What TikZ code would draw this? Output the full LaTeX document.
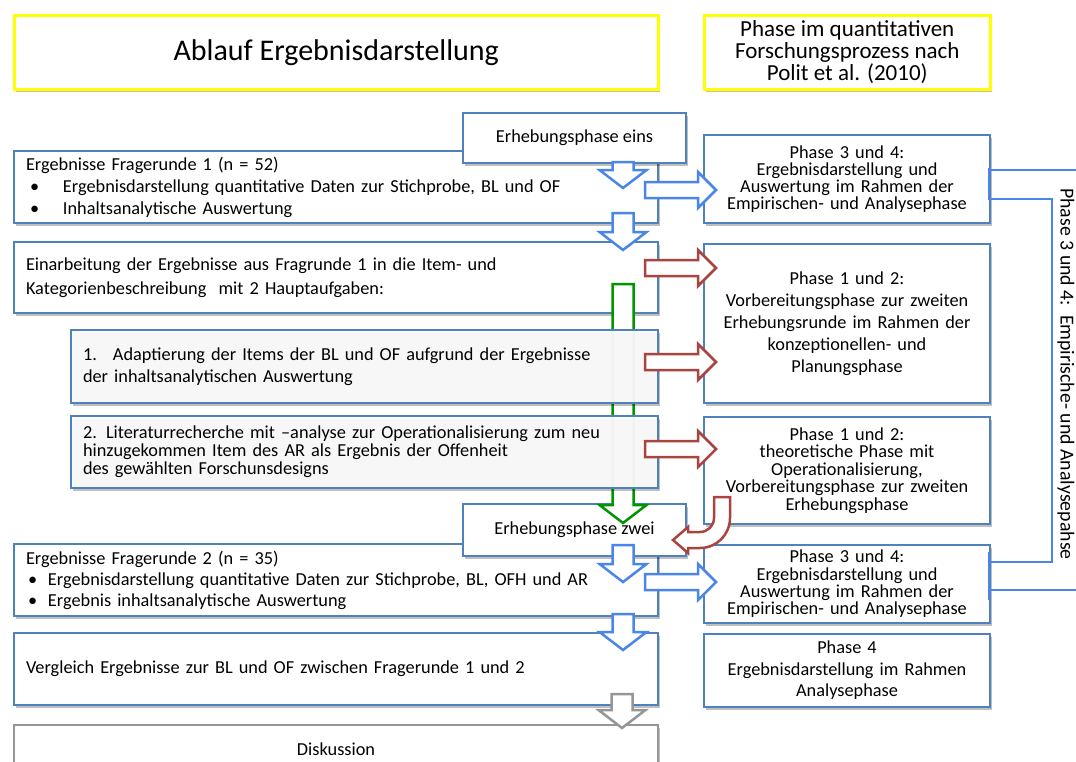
\documentclass[tikz,border=0pt]{standalone}
\usepackage{fontspec}
\setmainfont{Carlito}
\usetikzlibrary{shadows}

\definecolor{boxblue}{RGB}{79,129,189}
\definecolor{arrblue}{RGB}{74,134,232}
\definecolor{arrgreen}{RGB}{0,150,0}
\definecolor{arrred}{RGB}{169,68,62}
\definecolor{arrgray}{RGB}{150,150,150}
\definecolor{panelgray}{RGB}{251,251,251}
\definecolor{titleyellow}{RGB}{255,255,0}

\tikzset{
  softshadow/.style={drop shadow={shadow xshift=2pt,shadow yshift=-2.5pt,opacity=0.25,fill=black}},
  basebox/.style={draw=boxblue,line width=2pt,fill=white,inner ysep=0pt,anchor=north west,softshadow},
  titlebox/.style={basebox,draw=titleyellow,line width=2.5pt},
  leftbox/.style={basebox,align=left,inner xsep=12pt,font=\fontsize{18.3}{22}\selectfont},
  panelbox/.style={leftbox,fill=panelgray,fill opacity=0.95,text opacity=1},
  phasebox/.style={basebox,align=center,inner xsep=8pt,text width=270pt,minimum width=286pt},
  blockarrow/.style={line width=2.5pt,line join=miter,fill=white},
  barrow/.style={blockarrow,draw=arrblue},
  garrow/.style={blockarrow,draw=arrgreen},
  rarrow/.style={blockarrow,draw=arrred},
  grayarrow/.style={blockarrow,draw=arrgray},
  bracketline/.style={draw=arrblue,line width=2pt}
}

% block arrow pointing down: style, centre x, top y, tip y
\newcommand\blockdown[4]{%
  \draw[#1] (#2-10.5,#3) -- (#2-10.5,#4-18) -- (#2-23.5,#4-18) -- (#2,#4)
    -- (#2+23.5,#4-18) -- (#2+10.5,#4-18) -- (#2+10.5,#3) -- cycle;}
% block arrow pointing right: style, left x, centre y, tip x
\newcommand\blockright[4]{%
  \draw[#1] (#2,#3-8) -- (#4-18,#3-8) -- (#4-18,#3-18) -- (#4,#3)
    -- (#4-18,#3+18) -- (#4-18,#3+8) -- (#2,#3+8) -- cycle;}
\newcommand\bul[1]{\makebox[#1][l]{•}}

\begin{document}
\begin{tikzpicture}[x=1pt,y=-1pt]
\useasboundingbox (0,0) rectangle (1076,761);

% headings
\node[titlebox,minimum width=644pt,minimum height=74pt,font=\fontsize{30}{34}\selectfont] (tl) at (13,14) {Ablauf Ergebnisdarstellung};
\node[titlebox,minimum width=286pt,minimum height=74pt,align=center,font=\fontsize{23}{22}\selectfont] (tr) at (703,14)
  {Phase im quantitativen\\Forschungsprozess nach\\Polit et al. (2010)};

% research phases (right column)
\node[phasebox,minimum height=88pt,font=\fontsize{18.3}{17}\selectfont] (p34a) at (703,134)
  {Phase 3 und 4:\\Ergebnisdarstellung und\\Auswertung im Rahmen der\\Empirischen- und Analysephase};
\node[phasebox,minimum height=159pt,font=\fontsize{18.3}{22}\selectfont] (p12a) at (703,243)
  {Phase 1 und 2:\\Vorbereitungsphase zur zweiten\\Erhebungsrunde im Rahmen der\\konzeptionellen- und\\Planungsphase};
\node[phasebox,minimum height=107pt,font=\fontsize{18.3}{17.5}\selectfont] (p12b) at (703,416)
  {Phase 1 und 2:\\theoretische Phase mit\\Operationalisierung,\\Vorbereitungsphase zur zweiten\\Erhebungsphase};
\node[phasebox,minimum height=78pt,font=\fontsize{18.3}{17.3}\selectfont] (p34b) at (703,544)
  {Phase 3 und 4:\\Ergebnisdarstellung und\\Auswertung im Rahmen der\\Empirischen- und Analysephase};
\node[phasebox,minimum height=73pt,font=\fontsize{18.3}{21.5}\selectfont] (p4) at (703,633)
  {Phase 4\\Ergebnisdarstellung im Rahmen\\Analysephase};

% workflow (left column)
\node[leftbox,minimum width=644pt,minimum height=72pt,text width=620pt] (erg1) at (13,150)
  {Ergebnisse Fragerunde 1 (n = 52)\\\hspace*{4pt}\bul{33pt}Ergebnisdarstellung quantitative Daten zur Stichprobe, BL und OF\\\hspace*{4pt}\bul{33pt}Inhaltsanalytische Auswertung};
\node[leftbox,minimum width=644pt,minimum height=71pt,text width=620pt,font=\fontsize{18.3}{24}\selectfont] (einarb) at (13,241)
  {Einarbeitung der Ergebnisse aus Fragrunde 1 in die Item- und\\Kategorienbeschreibung\ \ mit 2 Hauptaufgaben:};
\node[leftbox,minimum width=644pt,minimum height=72pt,text width=620pt,font=\fontsize{18.3}{21}\selectfont] (erg2) at (13,543)
  {Ergebnisse Fragerunde 2 (n = 35)\\\hspace*{2pt}\bul{20pt}Ergebnisdarstellung quantitative Daten zur Stichprobe, BL, OFH und AR\\\hspace*{2pt}\bul{20pt}Ergebnis inhaltsanalytische Auswertung};
\node[leftbox,minimum width=644pt,minimum height=72pt,text width=620pt] (vergl) at (13,632)
  {Vergleich Ergebnisse zur BL und OF zwischen Fragerunde 1 und 2};
\node[leftbox,draw=arrgray,minimum width=644pt,minimum height=48pt,text width=620pt,align=center] (disk) at (13,724)
  {Diskussion};

\node[basebox,minimum width=223pt,minimum height=50pt,font=\fontsize{18.3}{22}\selectfont] (eins) at (462,112) {Erhebungsphase eins};
\node[basebox,minimum width=223pt,minimum height=52pt,font=\fontsize{18.3}{22}\selectfont] (zwei) at (462,503) {Erhebungsphase zwei};

% long green arrow through the two tasks
\blockdown{garrow}{623}{284}{523}

\node[panelbox,minimum width=587pt,minimum height=73pt,text width=563pt] (adapt) at (70,329)
  {\makebox[30pt][l]{1.}Adaptierung der Items der BL und OF aufgrund der Ergebnisse\\der inhaltsanalytischen Auswertung};
\node[panelbox,minimum width=587pt,minimum height=72pt,text width=563pt,font=\fontsize{18.3}{18}\selectfont] (lit) at (70,415)
  {2. Literaturrecherche mit –analyse zur Operationalisierung zum neu\\hinzugekommen Item des AR als Ergebnis der Offenheit\\des gewählten Forschunsdesigns};

% downward flow
\blockdown{barrow}{623}{162}{188}
\blockdown{barrow}{623}{213}{250}
\blockdown{barrow}{623}{545}{582}
\blockdown{barrow}{623}{614}{650}
\blockdown{grayarrow}{622}{694}{728}

% links to the research phases
\blockright{barrow}{645}{190}{716}
\blockright{rarrow}{645}{268}{716}
\blockright{rarrow}{645}{362}{716}
\blockright{rarrow}{645}{449}{716}
\blockright{barrow}{645}{582}{716}

% bent arrow back to the second survey phase
\draw[rarrow] (714,497) -- (714,518) .. controls (714,525.7) and (707.7,532) .. (700,532)
  -- (688,532) -- (688,527) -- (673,540) -- (688,553) -- (688,548) -- (700,548)
  .. controls (716.6,548) and (730,534.6) .. (730,518) -- (730,497) -- cycle;

% brackets for the empirical and analysis phase
\coordinate (edgeA) at (1080,170);
\coordinate (edgeB) at (1080,590);
\draw[bracketline] (989,168) -- (989,200);
\draw[bracketline] (989,552) -- (989,600);
\draw[bracketline] (989,170) -- (edgeA);
\draw[bracketline] (989,590) -- (edgeB);
\draw[bracketline] (989,199) -- (1052,199) -- (1052,562) -- (989,562);
\node[rotate=-90,font=\fontsize{19.8}{22}\selectfont] (side) at (1066,374) {Phase 3 und 4:\ \ Empirische- und Analysepahse};
\end{tikzpicture}
\end{document}
